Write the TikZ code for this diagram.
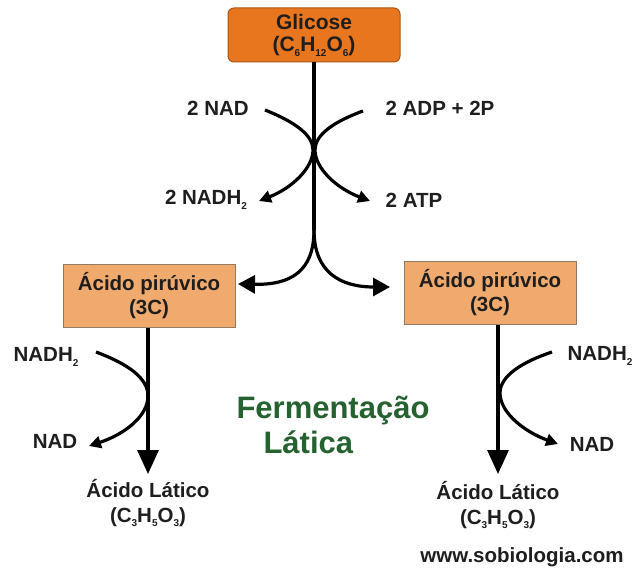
\documentclass[tikz,border=0pt]{standalone}
\usepackage{fontspec}
\setmainfont{Liberation Sans}
\usetikzlibrary{arrows.meta}
\definecolor{glcfill}{RGB}{232,118,30}
\definecolor{glcdraw}{RGB}{170,85,20}
\definecolor{pirfill}{RGB}{241,170,110}
\definecolor{pirdraw}{RGB}{150,120,95}
\definecolor{fgreen}{RGB}{38,98,48}
\definecolor{txt}{RGB}{30,30,30}
\newcommand{\sbs}[1]{\raisebox{-0.45ex}{\fontsize{10}{10}\selectfont #1}}
\begin{document}
\begin{tikzpicture}[x=1pt,y=-1pt,
  lbl/.style={font=\fontsize{20.5}{23}\selectfont\bfseries, text=txt, inner sep=0pt, align=center},
  glcbox/.style={draw=glcdraw, fill=glcfill, line width=1pt, rounded corners=6pt, minimum width=172pt, minimum height=54pt, font=\fontsize{21}{23}\selectfont\bfseries, text=txt, align=center, inner sep=0pt},
  pirbox/.style={draw=pirdraw, fill=pirfill, line width=0.8pt, minimum width=172pt, minimum height=63pt, font=\fontsize{20.5}{24}\selectfont\bfseries, text=txt, align=center, inner sep=0pt},
  conn/.style={line width=3.2pt, draw=black},
  bigarr/.style={conn, -{Triangle[length=24pt,width=21pt]}},
  smarr/.style={conn, -{Triangle[length=12pt,width=12pt]}},
  midarr/.style={conn, -{Triangle[length=17pt,width=18pt]}}
]
\useasboundingbox (0,0) rectangle (638,572);
\fill[white] (0,0) rectangle (638,572);

\node[glcbox] (glc) at (314,35) {Glicose\\[-1pt](C\sbs{6}H\sbs{12}O\sbs{6})};
\node[pirbox] (pl) at (149,296) {Ácido pirúvico\\(3C)};
\node[pirbox] (pr) at (490,293) {Ácido pirúvico\\(3C)};

\node[lbl] (nad) at (218,108) {2 NAD};
\node[lbl] (adp) at (440,108) {2 ADP + 2P};
\node[lbl] (nadh) at (206,200) {2 NADH\sbs{2}};
\node[lbl] (atp) at (414,200) {2 ATP};

\node[lbl] (nl1) at (46,357) {NADH\sbs{2}};
\node[lbl] (na1) at (55,441) {NAD};
\node[lbl] (nl2) at (600,356) {NADH\sbs{2}};
\node[lbl] (na2) at (592,444) {NAD};

\node[lbl] (ll) at (148,503) {Ácido Lático\\[2pt](C\sbs{3}H\sbs{5}O\sbs{3})};
\node[lbl] (lr) at (498,505) {Ácido Lático\\[2pt](C\sbs{3}H\sbs{5}O\sbs{3})};

\node[font=\fontsize{31}{35}\selectfont\bfseries, text=fgreen, inner sep=0pt, align=left] (ferm) at (333,425) {Fermentação\\\hspace*{27pt}Lática};
\node[lbl] (www) at (522,557) {www.sobiologia.com};

% main stem
\coordinate (split) at (314,230);
\coordinate (tipl) at (238,284);
\coordinate (tipr) at (390,287);
\draw[conn] (glc.south) -- (split);
\draw[midarr] (split) .. controls (314,272) and (290,285) .. (tipl);
\draw[midarr] (split) .. controls (314,272) and (340,287) .. (tipr);

% cross arcs
\coordinate (a1) at (265,110);
\coordinate (a2) at (259,201);
\coordinate (b1) at (363,111);
\coordinate (b2) at (370,201);
\draw[smarr] (a1) .. controls (295,122) and (313,135) .. (313,150) .. controls (313,168) and (292,188) .. (a2);
\draw[smarr] (b1) .. controls (333,122) and (315,135) .. (315,150) .. controls (315,168) and (336,188) .. (b2);

% left branch
\coordinate (c1) at (96,352);
\coordinate (c2) at (89,446);
\draw[bigarr] (pl.south -| 148,0) -- (148,474);
\draw[smarr] (c1) .. controls (128,364) and (148,378) .. (148,396) .. controls (148,416) and (125,434) .. (c2);

% right branch
\coordinate (d1) at (552,352);
\coordinate (d2) at (558,444);
\draw[bigarr] (pr.south -| 498,0) -- (498,474);
\draw[smarr] (d1) .. controls (522,362) and (500,376) .. (500,393) .. controls (500,413) and (525,432) .. (d2);
\end{tikzpicture}
\end{document}
